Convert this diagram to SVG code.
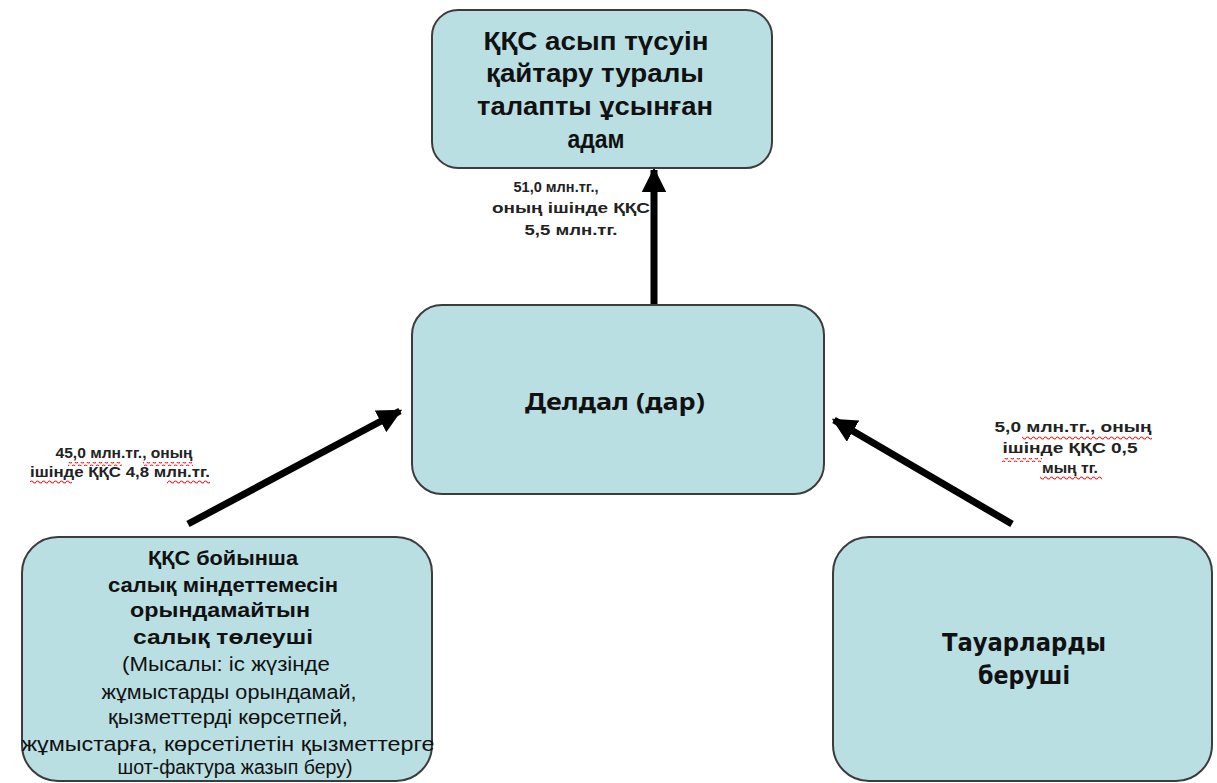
<svg xmlns="http://www.w3.org/2000/svg" width="1217" height="783" viewBox="0 0 1217 783">
<style>
.box{fill:#badfe3;stroke:#3c3c3c;stroke-width:2}
.t{font-family:"Liberation Sans",Arial,sans-serif;fill:#111;text-anchor:middle}
.b{font-weight:bold}
.n{font-family:"Noto Sans","Open Sans",sans-serif;font-weight:bold;fill:#111;text-anchor:middle}
.d{font-family:"DejaVu Sans",sans-serif;font-weight:bold;fill:#111;text-anchor:middle}
.lbl{font-family:"Liberation Sans",Arial,sans-serif;font-weight:bold;font-size:15px;fill:#222;text-anchor:middle}
.arr{stroke:#000;stroke-width:7;fill:none}
.wave{fill:url(#wv)}
</style>
<defs>
<marker id="ah" viewBox="0 0 10 10" refX="9" refY="5" markerWidth="3.5" markerHeight="3.5" orient="auto" markerUnits="strokeWidth">
<path d="M0,0 L10,5 L0,10 z" fill="#000"/>
</marker>
<pattern id="wv" width="6" height="4" patternUnits="userSpaceOnUse">
<path d="M0,2 Q1.5,0 3,2 T6,2" stroke="#e03030" stroke-width="1.2" fill="none"/>
</pattern>
</defs>
<rect width="1217" height="783" fill="#fff"/>
<g id="connectors">
<line class="arr" x1="654" y1="305" x2="654" y2="170" marker-end="url(#ah)"/>
<line class="arr" x1="188" y1="524" x2="400" y2="411" marker-end="url(#ah)"/>
<line class="arr" x1="1012" y1="524" x2="834" y2="420" marker-end="url(#ah)"/>
<text class="lbl" x="556" y="192" textLength="85" lengthAdjust="spacingAndGlyphs">51,0 млн.тг.,</text>
<text class="lbl" x="571" y="213" textLength="158" lengthAdjust="spacingAndGlyphs">оның ішінде ҚҚС</text>
<text class="lbl" x="571" y="235" textLength="93" lengthAdjust="spacingAndGlyphs">5,5 млн.тг.</text>
<text class="lbl" x="124" y="458" textLength="137" lengthAdjust="spacingAndGlyphs">45,0 млн.тг., оның</text>
<text class="lbl" x="120" y="477" textLength="180" lengthAdjust="spacingAndGlyphs">ішінде ҚҚС 4,8 млн.тг.</text>
<text class="lbl" x="1073" y="432" textLength="157" lengthAdjust="spacingAndGlyphs">5,0 млн.тг., оның</text>
<text class="lbl" x="1070" y="453" textLength="135" lengthAdjust="spacingAndGlyphs">ішінде ҚҚС  0,5</text>
<text class="lbl" x="1070" y="473" textLength="56" lengthAdjust="spacingAndGlyphs">мың тг.</text>
<rect class="wave" x="68" y="462" width="54" height="4"/>
<rect class="wave" x="143" y="462" width="50" height="4"/>
<rect class="wave" x="30" y="480" width="42" height="4"/>
<rect class="wave" x="167" y="480" width="43" height="4"/>
<rect class="wave" x="1022" y="436" width="130" height="4"/>
<rect class="wave" x="1002" y="458" width="40" height="4"/>
<rect class="wave" x="1040" y="476" width="62" height="4"/>
</g>
<g id="node-top">
<rect class="box" x="432" y="10" width="340" height="158" rx="26"/>
<text class="t b" font-size="25" x="596" y="50" textLength="225" lengthAdjust="spacingAndGlyphs">ҚҚС асып түсуін</text>
<text class="t b" font-size="25" x="595" y="82" textLength="218" lengthAdjust="spacingAndGlyphs">қайтару туралы</text>
<text class="t b" font-size="25" x="595" y="115" textLength="236" lengthAdjust="spacingAndGlyphs">талапты ұсынған</text>
<text class="t b" font-size="25" x="596" y="148" textLength="57" lengthAdjust="spacingAndGlyphs">адам</text>
</g>
<g id="node-center">
<rect class="box" x="412" y="305" width="412" height="189" rx="30"/>
<text class="n" font-size="24" x="615" y="410" textLength="180" lengthAdjust="spacingAndGlyphs">Делдал (дар)</text>
</g>
<g id="node-left">
<rect class="box" x="22" y="537" width="410" height="244" rx="36"/>
<text class="t b" font-size="20" x="223" y="565" textLength="150" lengthAdjust="spacingAndGlyphs">ҚҚС бойынша</text>
<text class="t b" font-size="20" x="223" y="592" textLength="230" lengthAdjust="spacingAndGlyphs">салық міндеттемесін</text>
<text class="t b" font-size="20" x="220" y="617" textLength="180" lengthAdjust="spacingAndGlyphs">орындамайтын</text>
<text class="t b" font-size="20" x="223" y="644" textLength="180" lengthAdjust="spacingAndGlyphs">салық төлеуші</text>
<text class="t" font-size="20" x="226" y="671" textLength="208" lengthAdjust="spacingAndGlyphs">(Мысалы: іс жүзінде</text>
<text class="t" font-size="20" x="229" y="699" textLength="255" lengthAdjust="spacingAndGlyphs">жұмыстарды орындамай,</text>
<text class="t" font-size="20" x="228" y="724" textLength="240" lengthAdjust="spacingAndGlyphs">қызметтерді көрсетпей,</text>
<text class="t" font-size="20" x="228" y="751" textLength="413" lengthAdjust="spacingAndGlyphs">жұмыстарға, көрсетілетін қызметтерге</text>
<text class="t" font-size="20" x="235" y="774" textLength="235" lengthAdjust="spacingAndGlyphs">шот-фактура  жазып беру)</text>
</g>
<g id="node-right">
<rect class="box" x="833" y="537" width="379" height="244" rx="36"/>
<text class="d" font-size="25" x="1024" y="651" textLength="164" lengthAdjust="spacingAndGlyphs">Тауарларды</text>
<text class="d" font-size="25" x="1024" y="684" textLength="92" lengthAdjust="spacingAndGlyphs">беруші</text>
</g>
</svg>
